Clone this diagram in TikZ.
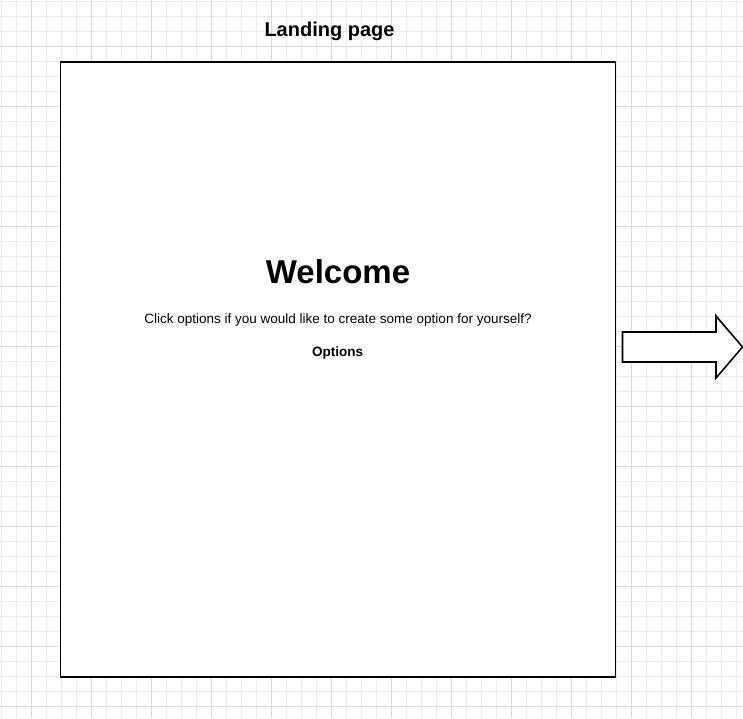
\documentclass[tikz,border=0pt]{standalone}
\usepackage{fontspec}
\setmainfont{Liberation Sans}
\begin{document}
\begin{tikzpicture}[x=1pt,y=-1pt,
  minorgrid/.style={draw=black!8,line width=1pt},
  majorgrid/.style={draw=black!15,line width=1pt},
  frame/.style={draw=black,line width=1.6pt,fill=white},
  label/.style={anchor=base,inner sep=0pt,text=black}]
  % page area
  \useasboundingbox (0,0) rectangle (743,718);
  \fill[white] (0,0) rectangle (743,718);
  % background grid
  \foreach \k in {0,...,49} {
    \draw[minorgrid] (1.7+15*\k,0) -- (1.7+15*\k,718);
    \draw[minorgrid] (0,1.7+15*\k) -- (743,1.7+15*\k);
  }
  \foreach \k in {0,...,12} {
    \draw[majorgrid] (31.7+60*\k,0) -- (31.7+60*\k,718);
    \draw[majorgrid] (0,46.7+60*\k) -- (743,46.7+60*\k);
  }
  % page frame
  \draw[frame] (60.5,62) rectangle (615.5,677);
  % texts
  \node[label,font=\bfseries\fontsize{20}{24}\selectfont] (title) at (329.5,36) {Landing page};
  \node[label,font=\bfseries\fontsize{33}{40}\selectfont] (welcome) at (338,283) {Welcome};
  \node[label,font=\fontsize{13.5}{16}\selectfont] (prompt) at (338,323) {Click options if you would like to create some option for yourself?};
  \node[label,font=\bfseries\fontsize{13.5}{16}\selectfont] (options) at (337.5,356) {Options};
  % arrow to the next page
  \draw[frame,line join=miter] (622.5,332) -- (716,332) -- (716,316) -- (742.5,347)
    -- (716,378) -- (716,362) -- (622.5,362) -- cycle;
\end{tikzpicture}
\end{document}
